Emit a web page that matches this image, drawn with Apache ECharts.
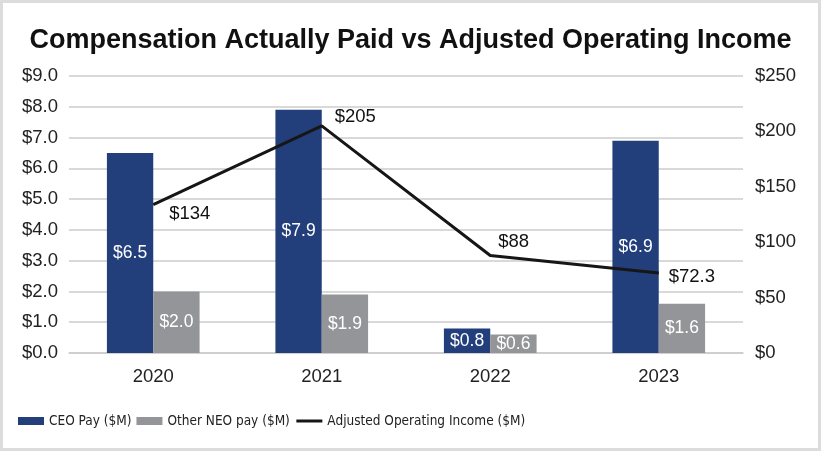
<!DOCTYPE html>
<html>
<head>
<meta charset="utf-8">
<script src="https://cdn.jsdelivr.net/npm/echarts@6/dist/echarts.min.js"></script>
<style>
  html, body { margin: 0; padding: 0; background: #fff; }
  #wrap { width: 821px; height: 451px; box-sizing: border-box; border: 3px solid #dcdcdc; background: #fff; }
  #chart { width: 815px; height: 445px; }
</style>
</head>
<body>
<div id="wrap"><div id="chart"></div></div>
<script>
const categories = ['2020', '2021', '2022', '2023'];
const ceoPay = [6.5, 7.9, 0.8, 6.9];
const otherNeoPay = [2.0, 1.9, 0.6, 1.6];
const adjOpIncome = [134, 205, 88, 72.3];
const incomeLabels = ['$134', '$205', '$88', '$72.3'];
const leftTicks = { min: 0, max: 9, interval: 1 };
const rightTicks = { min: 0, max: 250, interval: 50 };

const labelOffsets = [[11, 9], [8, -9], [3, -14], [5, 4]];

const chart = echarts.init(document.getElementById('chart'));
const font = 'Liberation Sans, Arial, sans-serif';
const narrow = '"DejaVu Sans Condensed", "Liberation Sans", sans-serif';
chart.setOption({
  animation: false,
  textStyle: { fontFamily: font },
  title: {
    text: 'Compensation Actually Paid vs Adjusted Operating Income',
    left: 'center', top: 19,
    textStyle: { fontFamily: font, fontSize: 27, fontWeight: 'bold', color: '#111' }
  },
  legend: {
    left: 10, top: 406,
    itemWidth: 26, itemHeight: 8, itemGap: 5,
    textStyle: { fontFamily: narrow, fontSize: 13.5, color: '#222' },
    data: [
      { name: 'CEO Pay ($M)', icon: 'rect' },
      { name: 'Other NEO pay ($M)', icon: 'rect' },
      { name: 'Adjusted Operating Income ($M)', itemStyle: { opacity: 0 }, lineStyle: { width: 3, color: '#161616' } }
    ]
  },
  grid: { left: 66, right: 75, top: 73, bottom: 95, containLabel: false },
  xAxis: {
    type: 'category', data: categories,
    axisLine: { show: true, lineStyle: { color: '#cccccc', width: 1.5 } },
    axisTick: { show: false },
    axisLabel: { fontSize: 18.5, color: '#222', margin: 14, fontFamily: font }
  },
  yAxis: [
    {
      type: 'value', min: leftTicks.min, max: leftTicks.max, interval: leftTicks.interval,
      axisLine: { show: false }, axisTick: { show: false },
      axisLabel: { fontSize: 18.5, color: '#222', margin: 11, fontFamily: font,
        formatter: v => '$' + v.toFixed(1) },
      splitLine: { lineStyle: { color: '#cccccc', width: 1.5 } }
    },
    {
      type: 'value', min: rightTicks.min, max: rightTicks.max, interval: rightTicks.interval,
      axisLine: { show: false }, axisTick: { show: false },
      axisLabel: { fontSize: 18.5, color: '#222', margin: 12, fontFamily: font,
        formatter: v => '$' + v },
      splitLine: { show: false }
    }
  ],
  series: [
    {
      name: 'CEO Pay ($M)', type: 'bar', data: ceoPay,
      barGap: '0%', barCategoryGap: '45%',
      itemStyle: { color: '#223f7c' },
      label: { show: true, position: 'inside', color: '#fff', fontSize: 17.5, fontFamily: font,
        formatter: p => '$' + p.value.toFixed(1) }
    },
    {
      name: 'Other NEO pay ($M)', type: 'bar', data: otherNeoPay,
      itemStyle: { color: '#939598' },
      label: { show: true, position: 'inside', color: '#fff', fontSize: 17.5, fontFamily: font,
        formatter: p => '$' + p.value.toFixed(1) }
    },
    {
      name: 'Adjusted Operating Income ($M)', type: 'line', yAxisIndex: 1,
      symbol: 'circle', symbolSize: 0, showSymbol: true,
      lineStyle: { color: '#161616', width: 3 },
      itemStyle: { color: '#161616' },
      data: adjOpIncome.map((v, i) => ({
        value: v,
        label: { show: true, position: 'right', distance: 5, offset: labelOffsets[i],
          formatter: incomeLabels[i], color: '#111', fontSize: 18.5, fontFamily: font }
      }))
    }
  ]
});
</script>
</body>
</html>
